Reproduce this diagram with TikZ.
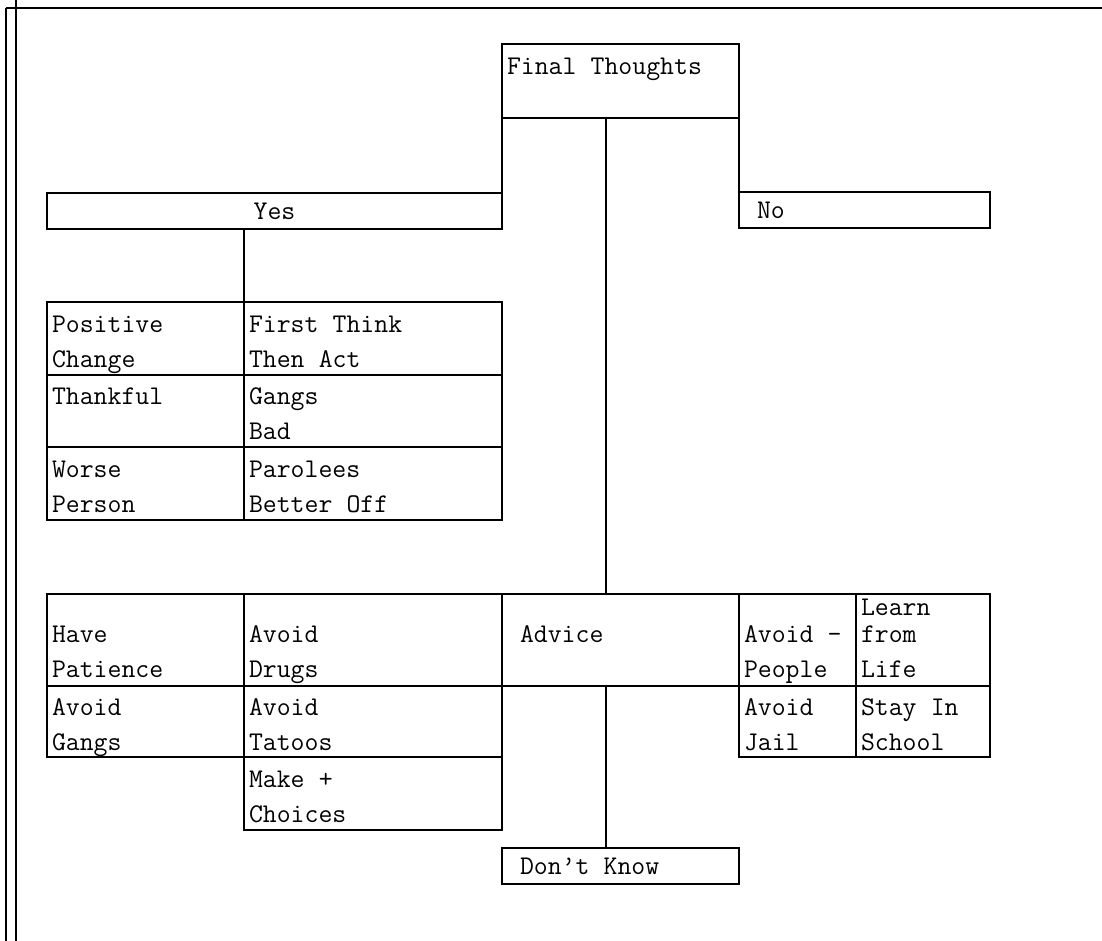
\documentclass[tikz,border=0pt]{standalone}
\usepackage{fontspec}
\newcommand{\cellfont}{\ttfamily\fontsize{13.5}{17.5}\selectfont}
\begin{document}
\begin{tikzpicture}[thick,x=0.5pt,y=-0.5pt,
        every node/.style={font=\cellfont,outer sep=0pt,
            execute at begin node={\spaceskip=0.525em\relax}},
        box/.style={draw,anchor=north west,inner xsep=2.5pt,inner ysep=0pt,
            align=left,text height=14pt,text depth=20.5pt},
        low/.style={text height=23.2pt},
        bar/.style={draw,anchor=north west,inner xsep=9pt,inner ysep=0pt,
            align=left,minimum height=18pt}]
    \useasboundingbox (0,0) rectangle (1102,941);
    % edge of the scanned page
    \draw (6,8) -- (1102,8);
    \draw (6,8) -- (6,941);
    \draw (16,0) -- (16,941);

    \node[box,text width=113.5pt,minimum height=37pt] (ft) at (502,44) {Final Thoughts};
    \node[bar,inner xsep=2.5pt,text width=222.5pt,align=center] (yes) at (47,193) {Yes};
    \node[bar,text width=107.5pt] (no) at (739,192) {No};

    % yes table
    \node[box,text width=93.5pt,minimum height=36.5pt] (pc) at (47,302) {Positive\\Change};
    \node[box,text width=124pt,minimum height=36.5pt] (tta) at (244,302) {First Think\\Then Act};
    \node[box,text width=93.5pt,minimum height=36pt] (th) at (47,375) {Thankful};
    \node[box,text width=124pt,minimum height=36pt] (gb) at (244,375) {Gangs\\Bad};
    \node[box,text width=93.5pt,minimum height=36.5pt] (wp) at (47,447) {Worse\\Person};
    \node[box,text width=124pt,minimum height=36.5pt] (pbo) at (244,447) {Parolees\\Better Off};

    % advice table
    \node[box,low,text width=93.5pt,minimum height=46pt] (hp) at (47,594) {Have\\Patience};
    \node[box,low,text width=124pt,minimum height=46pt] (ad) at (244,594) {Avoid\\Drugs};
    \node[box,low,inner xsep=9pt,text width=100.5pt,minimum height=46pt] (adv) at (502,594) {Advice};
    \node[box,low,text width=53.5pt,minimum height=46pt] (ap) at (739,594) {Avoid -\\People};
    \node[box,text height=8pt,text depth=32.3pt,text width=62pt,minimum height=46pt] (lfl) at (856,594) {Learn\\[-4pt]from\\Life};
    \node[box,text width=93.5pt,minimum height=35.5pt] (ag) at (47,686) {Avoid\\Gangs};
    \node[box,text width=124pt,minimum height=35.5pt] (at) at (244,686) {Avoid\\Tatoos};
    \node[box,text width=53.5pt,minimum height=35.5pt] (aj) at (739,686) {Avoid\\Jail};
    \node[box,text width=62pt,minimum height=35.5pt] (sis) at (856,686) {Stay In\\School};
    \node[box,text width=124pt,minimum height=36.5pt] (mc) at (244,757) {Make +\\Choices};

    \node[bar,text width=100.5pt] (dk) at (502,848) {Don’t Know};

    \draw (ft.south west) -- (yes.north east);
    \draw (ft.south east) -- (no.north west);
    \draw (yes.south -| pc.north east) -- (pc.north east);
    \draw ([xshift=-7.25pt]ft.south) -- ([xshift=-7.25pt]adv.north);
    \draw ([xshift=-7.25pt]adv.south) -- ([xshift=-7.25pt]dk.north);
\end{tikzpicture}
\end{document}
